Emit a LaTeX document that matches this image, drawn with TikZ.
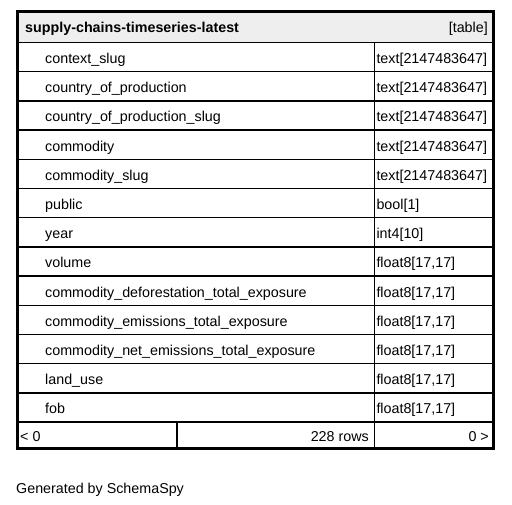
\documentclass[tikz,border=0pt]{standalone}
\usepackage{fontspec}
\setmainfont{Liberation Sans}
\definecolor{headgray}{HTML}{EEEEEE}
\tikzstyle{cell}=[inner sep=0pt,anchor=base west,font=\fontsize{14.3}{17}\selectfont]
\tikzstyle{rcell}=[cell,anchor=base east]
\tikzstyle{rule}=[line width=1.5pt]
\tikzstyle{frame}=[line width=3pt]
\newcommand{\rowh}{29.2}
\newcommand{\drawrow}[3]{% #1 = row number, #2 = column, #3 = type
  \pgfmathsetmacro{\rowtop}{42.5+(#1-1)*\rowh}
  \draw[rule] (17,\rowtop) -- (493.5,\rowtop);
  \node[cell] (col#1) at (45,\rowtop+21) {#2};
  \node[cell] (type#1) at (376.3,\rowtop+21) {#3};
}

\begin{document}
\begin{tikzpicture}[x=1pt,y=-1pt]
\useasboundingbox (0,0) rectangle (512,505);
% table head
\fill[headgray] (17,12) rectangle (493.5,42.5);
\node[cell,font=\fontsize{14.3}{17}\selectfont\bfseries] (title) at (25,33) {supply-chains-timeseries-latest};
\node[rcell] (kind) at (488,33) {[table]};
% one row per column
\drawrow{1}{context\_slug}{text[2147483647]}
\drawrow{2}{country\_of\_production}{text[2147483647]}
\drawrow{3}{country\_of\_production\_slug}{text[2147483647]}
\drawrow{4}{commodity}{text[2147483647]}
\drawrow{5}{commodity\_slug}{text[2147483647]}
\drawrow{6}{public}{bool[1]}
\drawrow{7}{year}{int4[10]}
\drawrow{8}{volume}{float8[17,17]}
\drawrow{9}{commodity\_deforestation\_total\_exposure}{float8[17,17]}
\drawrow{10}{commodity\_emissions\_total\_exposure}{float8[17,17]}
\drawrow{11}{commodity\_net\_emissions\_total\_exposure}{float8[17,17]}
\drawrow{12}{land\_use}{float8[17,17]}
\drawrow{13}{fob}{float8[17,17]}
% footer
\pgfmathsetmacro{\foottop}{42.5+13*\rowh}
\draw[rule] (17,\foottop) -- (493.5,\foottop);
\draw[rule] (374.3,42.5) -- (374.3,448);
\draw[rule] (177,\foottop) -- (177,448);
\node[cell] (prev) at (20,\foottop+19) {< 0};
\node[rcell] (rows) at (369,\foottop+19) {228 rows};
\node[rcell] (next) at (489,\foottop+19) {0 >};
% outer frame
\draw[frame] (17,12) rectangle (493.5,448);
\node[cell] (credit) at (16,493.5) {Generated by SchemaSpy};
\end{tikzpicture}
\end{document}
